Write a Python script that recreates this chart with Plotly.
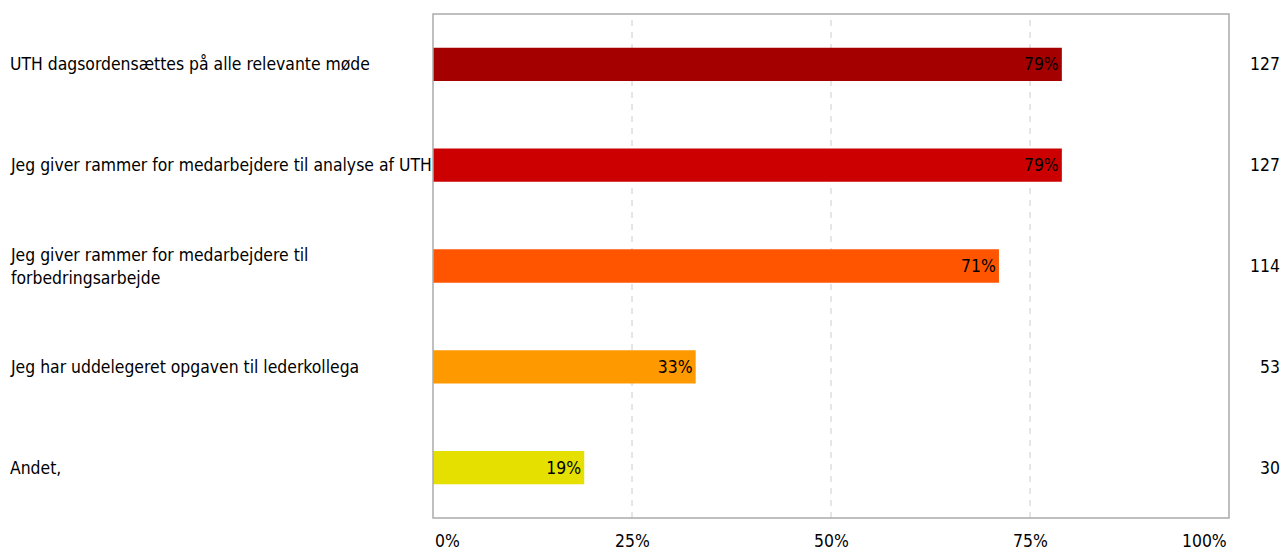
import plotly.graph_objects as go

categories = [
    "UTH dagsordensættes på alle relevante møde",
    "Jeg giver rammer for medarbejdere til analyse af UTH",
    "Jeg giver rammer for medarbejdere til<br>forbedringsarbejde",
    "Jeg har uddelegeret opgaven til lederkollega",
    "Andet,",
]
percent_values = [79.0, 79.0, 71.1, 33.0, 19.0]
percent_labels = ["79%", "79%", "71%", "33%", "19%"]
counts = [127, 127, 114, 53, 30]
bar_colors = ["#A50000", "#CC0000", "#FF5500", "#FF9900", "#E6E000"]
tick_vals = [0, 25, 50, 75, 100]
tick_text = ["0%", "25%", "50%", "75%", "100%"]

FONT = "DejaVu Sans Condensed, Liberation Sans Narrow, sans-serif"
FS = 17.4
W, H = 1287, 553
L, R, T, B = 433, 1229, 14, 518
pw, ph = R - L, B - T

idx = list(range(len(categories)))

fig = go.Figure()
fig.add_trace(go.Bar(
    y=idx, x=percent_values, orientation="h",
    marker=dict(color=bar_colors, line=dict(width=0)),
    width=0.33,
    text=percent_labels, textposition="inside", insidetextanchor="end",
    textfont=dict(family=FONT, size=FS, color="black"),
    hoverinfo="skip",
))

annotations = []
for i, (c, n) in enumerate(zip(categories, counts)):
    annotations.append(dict(
        x=(8 - L) / pw, xref="paper", y=i, yref="y",
        text=c, showarrow=False, xanchor="left", yanchor="middle", align="left",
        font=dict(family=FONT, size=FS, color="black"),
    ))
    annotations.append(dict(
        x=(1282 - L) / pw, xref="paper", y=i, yref="y",
        text=str(n), showarrow=False, xanchor="right", yanchor="middle",
        font=dict(family=FONT, size=FS, color="black"),
    ))
for v, t in zip(tick_vals, tick_text):
    anchor = "left" if v == 0 else ("right" if v == 100 else "center")
    annotations.append(dict(
        x=v, xref="x", y=-(541 - B) / ph, yref="paper",
        text=t, showarrow=False, xanchor=anchor, yanchor="middle",
        font=dict(family=FONT, size=FS, color="black"),
    ))

shapes = []
for v in [25, 50, 75]:
    shapes.append(dict(type="line", xref="x", yref="paper", x0=v, x1=v, y0=0, y1=1,
                       line=dict(color="#CCCCCC", width=1, dash="6px,6px"), layer="below"))
shapes.append(dict(type="rect", xref="paper", yref="paper", x0=0, x1=1, y0=0, y1=1,
                   line=dict(color="#AAAAAA", width=1.5), layer="above"))

fig.update_layout(
    width=W, height=H,
    margin=dict(l=L, r=W - R, t=T, b=H - B),
    plot_bgcolor="white", paper_bgcolor="white",
    showlegend=False,
    xaxis=dict(range=[0, 100], showgrid=False, zeroline=False, showticklabels=False,
               ticks="", fixedrange=True),
    yaxis=dict(range=[4.5, -0.5], showgrid=False, zeroline=False, showticklabels=False,
               ticks="", fixedrange=True),
    annotations=annotations,
    shapes=shapes,
    font=dict(family=FONT, size=FS, color="black"),
    uniformtext=dict(mode="show", minsize=10),
)

fig.write_html(
    "out.html",
    config={"displayModeBar": False},
    post_script="document.body.style.margin='0px';document.body.style.overflow='hidden';",
)
